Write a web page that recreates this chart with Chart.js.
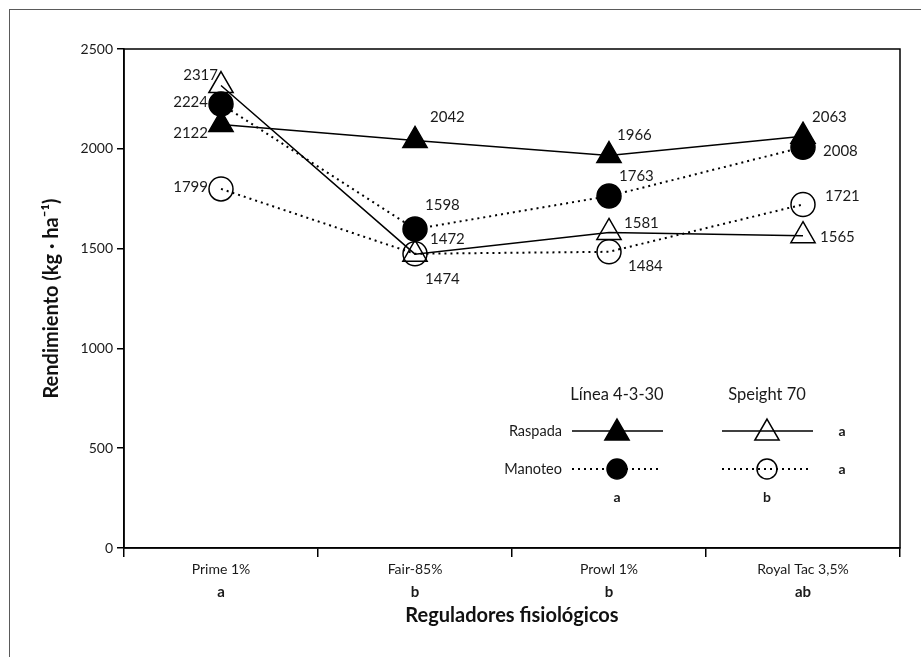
<!DOCTYPE html>
<html>
<head>
<meta charset="utf-8">
<script src="https://cdn.jsdelivr.net/npm/chart.js@4/dist/chart.umd.min.js"></script>
<style>
  html, body { margin: 0; padding: 0; background: #fff; }
  #wrap { width: 921px; height: 657px; position: relative; }
</style>
</head>
<body>
<div id="wrap"><canvas id="chart"></canvas></div>
<script>
const categories = ['Prime 1%', 'Fair-85%', 'Prowl 1%', 'Royal Tac 3,5%'];
const catLetters = ['a', 'b', 'b', 'ab'];
const yTicks = [0, 500, 1000, 1500, 2000, 2500];

// Línea 4-3-30
const lineaRaspada = [2122, 2042, 1966, 2063];
const lineaManoteo = [2224, 1598, 1763, 2008];
// Speight 70
const speightRaspada = [2317, 1472, 1581, 1565];
const speightManoteo = [1799, 1474, 1484, 1721];

const colHeaders = ['Línea 4-3-30', 'Speight 70'];
const colLetters = ['a', 'b'];
const rowNames = ['Raspada', 'Manoteo'];
const rowLetters = ['a', 'a'];

// where each value label sits relative to its point: [dx, dy, align]
const labelPos = [
  [[-13, 9, 'right'], [15, -23, 'left'], [8, -20, 'left'], [9, -19, 'left']],
  [[-13, -2, 'right'], [10, -24, 'left'], [10, -20, 'left'], [20, 4, 'left']],
  [[-3, -10, 'right'], [15, -15, 'left'], [15, -9, 'left'], [17, 2, 'left']],
  [[-13, -2, 'right'], [10, 25, 'left'], [19, 14, 'left'], [22, -8, 'left']]
];

const FONT = 'Lato';
const TXT = '#1a1a1a';

function marker(ctx, style, x, y, r, filled) {
  ctx.save();
  ctx.beginPath();
  if (style === 'triangle') {
    ctx.moveTo(x, y - r);
    ctx.lineTo(x + r * 0.866, y + r * 0.5);
    ctx.lineTo(x - r * 0.866, y + r * 0.5);
    ctx.closePath();
  } else {
    ctx.arc(x, y, r, 0, Math.PI * 2);
  }
  ctx.lineWidth = 1.5;
  ctx.strokeStyle = '#000';
  if (filled) { ctx.fillStyle = '#000'; ctx.fill(); }
  ctx.stroke();
  ctx.restore();
}

const extras = {
  id: 'extras',
  beforeDraw(chart) {
    const ctx = chart.ctx;
    ctx.save();
    ctx.fillStyle = '#fff';
    ctx.fillRect(0, 0, chart.width, chart.height);
    ctx.strokeStyle = '#5a5a5a';
    ctx.lineWidth = 1;
    ctx.strokeRect(9.5, 9.5, 1000, 1000);
    ctx.restore();
  },
  afterDatasetsDraw(chart) {
    const ctx = chart.ctx;
    const a = chart.chartArea;
    ctx.save();
    // plot frame
    ctx.strokeStyle = '#000';
    ctx.lineWidth = 1.5;
    ctx.strokeRect(a.left, a.top, a.right - a.left, a.bottom - a.top);

    // value labels
    ctx.fillStyle = TXT;
    ctx.font = '15px ' + FONT;
    ctx.textBaseline = 'middle';
    chart.data.datasets.forEach((ds, di) => {
      const meta = chart.getDatasetMeta(di);
      meta.data.forEach((pt, i) => {
        const p = labelPos[di][i];
        ctx.textAlign = p[2];
        ctx.fillText(String(ds.data[i]), pt.x + p[0], pt.y + p[1]);
      });
    });

    // significance letters under categories
    const xs = chart.scales.x;
    ctx.font = 'bold 15px ' + FONT;
    ctx.textAlign = 'center';
    catLetters.forEach((l, i) => ctx.fillText(l, xs.getPixelForValue(i), 592));

    // custom legend
    const colX = [617, 767];
    const rowY = [431, 469];
    ctx.font = '16.5px ' + FONT;
    colHeaders.forEach((t, c) => ctx.fillText(t, colX[c], 395));
    ctx.font = '14.5px ' + FONT;
    ctx.textAlign = 'right';
    rowNames.forEach((t, r) => ctx.fillText(t, 562, rowY[r]));
    ctx.font = 'bold 14px ' + FONT;
    ctx.textAlign = 'center';
    rowLetters.forEach((t, r) => ctx.fillText(t, 842, rowY[r]));
    colLetters.forEach((t, c) => ctx.fillText(t, colX[c], 497));

    colX.forEach((cx, c) => {
      // solid row
      ctx.beginPath();
      ctx.setLineDash([]);
      ctx.lineWidth = 1.5;
      ctx.strokeStyle = '#000';
      ctx.moveTo(cx - 45, rowY[0]);
      ctx.lineTo(cx + 46, rowY[0]);
      ctx.stroke();
      marker(ctx, 'triangle', cx, rowY[0] + 2, 14, c === 0);
      // dotted row
      ctx.beginPath();
      ctx.setLineDash([2, 4]);
      ctx.lineWidth = 2;
      ctx.moveTo(cx - 45, rowY[1]);
      ctx.lineTo(cx + 42, rowY[1]);
      ctx.stroke();
      ctx.setLineDash([]);
      marker(ctx, 'circle', cx, rowY[1], 10, c === 0);
    });
    ctx.restore();
  }
};

function series(data, style, filled, dotted, r) {
  return {
    data: data,
    borderColor: '#000',
    borderWidth: dotted ? 2 : 1.5,
    borderDash: dotted ? [2, 4] : [],
    pointStyle: style,
    pointRadius: r,
    pointHoverRadius: r,
    pointBorderWidth: 1.5,
    pointBorderColor: '#000',
    pointBackgroundColor: filled ? '#000' : 'rgba(0,0,0,0)',
    fill: false,
    tension: 0
  };
}

new Chart(document.getElementById('chart'), {
  type: 'line',
  data: {
    labels: categories,
    datasets: [
      series(lineaRaspada, 'triangle', true, false, 14),
      series(lineaManoteo, 'circle', true, true, 12),
      series(speightRaspada, 'triangle', false, false, 14),
      series(speightManoteo, 'circle', false, true, 12)
    ]
  },
  options: {
    responsive: true,
    maintainAspectRatio: false,
    animation: false,
    events: [],
    layout: { padding: { left: 0, top: 49, right: 21, bottom: 0 } },
    plugins: {
      legend: { display: false },
      tooltip: { enabled: false },
      title: { display: false }
    },
    scales: {
      x: {
        offset: true,
        grid: { offset: true, drawOnChartArea: false, drawTicks: true, tickLength: 9, color: '#000', lineWidth: 1.5 },
        border: { display: true, color: '#000', width: 1.5 },
        ticks: { color: TXT, font: { family: FONT, size: 14 }, padding: 4, maxRotation: 0, autoSkip: false },
        title: {
          display: true, text: 'Reguladores fisiológicos', color: '#111',
          font: { family: FONT, size: 20, weight: 'bold' }, padding: { top: 0, bottom: 29 }
        },
        afterFit: s => { s.height = 109; }
      },
      y: {
        min: 0,
        max: 2500,
        afterBuildTicks: s => { s.ticks = yTicks.map(v => ({ value: v })); },
        grid: { drawOnChartArea: false, drawTicks: true, tickLength: 7, color: '#000', lineWidth: 1.5 },
        border: { display: true, color: '#000', width: 1.5 },
        ticks: { color: TXT, font: { family: FONT, size: 14 }, padding: 4, callback: v => String(v) },
        title: {
          display: true, text: 'Rendimiento (kg · ha⁻¹)', color: '#111',
          font: { family: FONT, size: 20, weight: 'bold' }, padding: { top: 40, bottom: 0 }
        },
        afterFit: s => { s.width = 124; }
      }
    }
  },
  plugins: [extras]
});
</script>
</body>
</html>
